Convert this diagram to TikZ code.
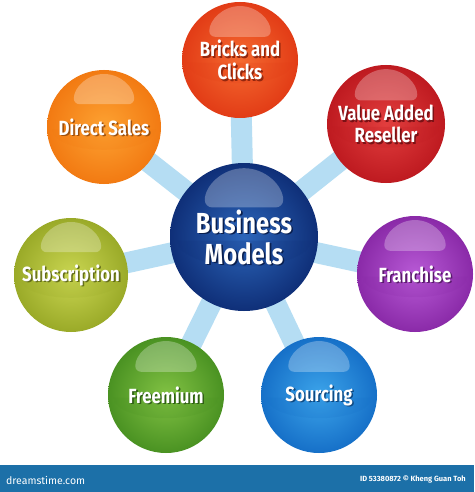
\documentclass[tikz,border=0pt]{standalone}
\usepackage{fontspec}
\newfontfamily\lbl{Fira Sans}[FakeStretch=0.82]
\newfontfamily\barfont{Fira Sans}
\pgfdeclarelayer{background}
\pgfsetlayers{background,main}
\definecolor{connc}{HTML}{B5DDF3}
\definecolor{barc}{HTML}{1C70A8}
\definecolor{bcI}{HTML}{F56A30}\definecolor{bcO}{HTML}{E23C16}
\definecolor{varI}{HTML}{E23E3E}\definecolor{varO}{HTML}{BE1A20}
\definecolor{frI}{HTML}{B85AD6}\definecolor{frO}{HTML}{8A2AA8}
\definecolor{soI}{HTML}{3CA4EA}\definecolor{soO}{HTML}{1670C8}
\definecolor{fmI}{HTML}{82C244}\definecolor{fmO}{HTML}{4A9222}
\definecolor{subI}{HTML}{CAD652}\definecolor{subO}{HTML}{9AAA28}
\definecolor{dsI}{HTML}{FDA232}\definecolor{dsO}{HTML}{F27A12}
\definecolor{bmI}{HTML}{2C66BA}\definecolor{bmO}{HTML}{0F2F78}
\tikzset{
  conn/.style={connc, line width=21pt},
  ballnode/.style={circle, inner sep=0pt, draw=none},
  lbltext/.style={align=center, text=white, font=\lbl\bfseries\fontsize{#1}{\dimexpr#1pt+2pt\relax}\selectfont, inner sep=0pt},
  shadowtext/.style={align=center, font=\lbl\bfseries\fontsize{#1}{\dimexpr#1pt+2pt\relax}\selectfont, inner sep=0pt}
}
% name, x, y, r, inner, outer, text, size
\newcommand\myball[8]{%
  \node[ballnode, minimum size={2*#4 pt}, inner color=#5, outer color=#6] (#1) at (#2,#3) {};
  \fill[#6, opacity=0.18] ({#2-0.9*#4},{#3+0.05*#4}) arc[start angle=180, end angle=0, x radius={0.9*#4}, y radius={0.35*#4}] -- cycle;
  \fill[white, opacity=0.28, rounded corners={0.1*#4 pt}] ({#2-0.53*#4},{#3-0.40*#4}) arc[start angle=180, end angle=360, x radius={0.53*#4}, y radius={0.53*#4}] -- cycle;
  \node[shadowtext=#8, text=#6!65!black] (#1s) at ({#2+1.6},{#3+1.8}) {#7};
  \node[lbltext=#8] (#1t) at (#2,#3) {#7};
}
\begin{document}
\begin{tikzpicture}[x=1pt,y=-1pt]
\useasboundingbox (0,0) rectangle (474,492);
\myball{bc}{240}{60}{58}{bcI}{bcO}{Bricks and\\Clicks}{20.5}
\myball{var}{386}{124}{59}{varI}{varO}{Value Added\\Reseller}{20.5}
\myball{fr}{415}{274}{58}{frI}{frO}{Franchise}{20.5}
\myball{so}{319}{395}{58}{soI}{soO}{Sourcing}{20.5}
\myball{fm}{166}{395}{58}{fmI}{fmO}{Freemium}{20.5}
\myball{sub}{71}{275}{57}{subI}{subO}{Subscription}{20.5}
\myball{ds}{104}{127}{57}{dsI}{dsO}{Direct Sales}{20.5}
\myball{bm}{244}{237}{74}{bmI}{bmO}{Business\\Models}{29}
\begin{pgfonlayer}{background}
\fill[white] (0,0) rectangle (474,492);
\foreach \n in {bc,var,fr,so,fm,sub,ds}{\draw[conn] (bm.center) -- (\n.center);}
\end{pgfonlayer}
\fill[barc] (0,465) rectangle (474,492);
\node[anchor=west, text=white, font=\barfont\fontsize{10.5}{11}\selectfont, inner sep=0pt] (dt) at (6,480) {dreamstime.com};
\node[anchor=east, text=white, font=\barfont\bfseries\fontsize{7.5}{8}\selectfont, inner sep=0pt] (id) at (466,479) {ID 53380872 © Kheng Guan Toh};
\end{tikzpicture}
\end{document}
